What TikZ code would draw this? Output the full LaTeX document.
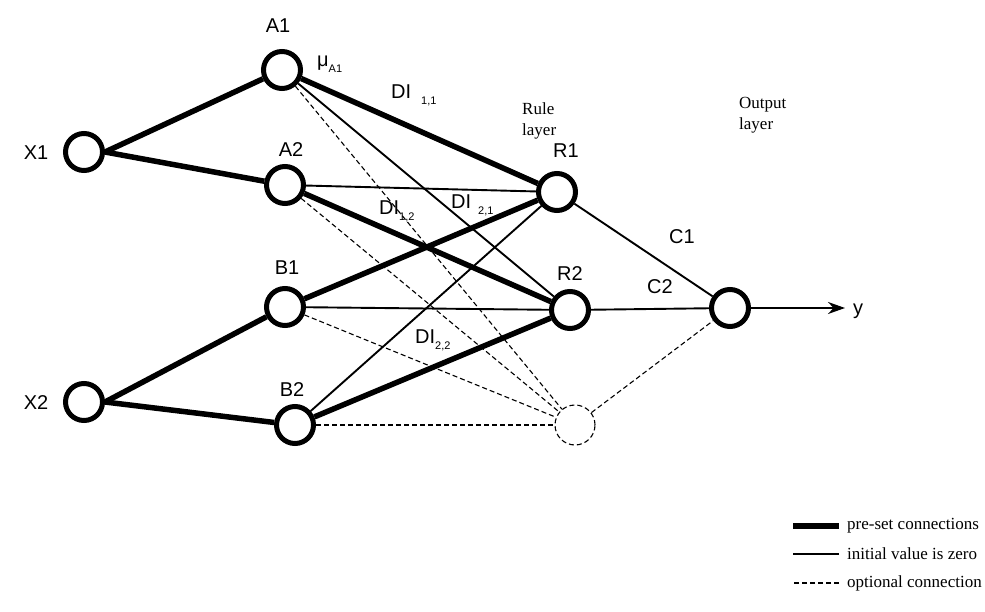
\documentclass[tikz,border=0pt]{standalone}
\usepackage{fontspec}
\setmainfont{Liberation Serif}
\newfontfamily\labelfont{Liberation Sans}
\usetikzlibrary{arrows.meta}
\newcommand{\lsub}[1]{\raisebox{-0.3em}{\fontsize{11pt}{11pt}\selectfont #1}}
\begin{document}
\begin{tikzpicture}[x=1pt, y=-1pt, >={Stealth[length=17pt,width=12pt]},
    neuron/.style={circle, draw, line width=5pt, minimum size=37pt, inner sep=0pt, fill=white},
    ghost/.style={circle, draw, line width=1.1pt, dash pattern=on 5pt off 3pt, minimum size=40pt, inner sep=0pt},
    preset/.style={line width=5.5pt},
    zeroinit/.style={line width=1.9pt},
    optional/.style={line width=1.1pt, dash pattern=on 5pt off 3pt},
    lbl/.style={font=\labelfont\fontsize{20pt}{22pt}\selectfont, inner sep=1pt},
    txt/.style={font=\fontsize{17pt}{21pt}\selectfont, align=left, inner sep=1pt}]
  \useasboundingbox (0,0) rectangle (985,612);

  % Neurons
  \node[neuron] (X1) at (84,152) {};
  \node[neuron] (X2) at (84,402) {};
  \node[neuron] (A1) at (282,70) {};
  \node[neuron] (A2) at (285,185) {};
  \node[neuron] (B1) at (285,307) {};
  \node[neuron] (B2) at (295,425) {};
  \node[neuron] (R1) at (557,192) {};
  \node[neuron] (R2) at (570,310) {};
  \node[ghost]  (R3) at (575,425) {};
  \node[neuron] (out) at (730,308) {};
  \coordinate (yend) at (845,308);

  % Input to membership layer
  \draw[preset] (X1.east) -- (A1);
  \draw[preset] (X1.east) -- (A2);
  \draw[preset] (X2.east) -- (B1);
  \draw[preset] (X2.east) -- (B2);

  % Membership to rule layer
  \draw[preset] (A1) -- (R1);
  \draw[preset] (A2) -- (R2);
  \draw[preset] (B1) -- (R1);
  \draw[preset] (B2) -- (R2);
  \draw[zeroinit] (A1) -- (R2);
  \draw[zeroinit] (A2) -- (R1);
  \draw[zeroinit] (B1) -- (R2);
  \draw[zeroinit] (B2) -- (R1);
  \foreach \m in {A1,A2,B1,B2}
    \draw[optional] (\m) -- (R3);

  % Rule to output layer
  \draw[zeroinit] (R1) -- (out);
  \draw[zeroinit] (R2) -- (out);
  \draw[optional] (R3) -- (out);
  \draw[->, line width=2pt] (out) -- (yend);

  % Labels
  \node[lbl] (lX1) at (36,153) {X1};
  \node[lbl] (lX2) at (36,403) {X2};
  \node[lbl] (lA1) at (278,26) {A1};
  \node[lbl] (lA2) at (291,150) {A2};
  \node[lbl] (lB1) at (287,268) {B1};
  \node[lbl] (lB2) at (292,390) {B2};
  \node[lbl] (lR1) at (566,151) {R1};
  \node[lbl] (lR2) at (570,274) {R2};
  \node[lbl] (lC1) at (682,237) {C1};
  \node[lbl] (lC2) at (660,287) {C2};
  \node[lbl, anchor=west] (ly) at (852,311) {y};
  \node[lbl, anchor=west] (mu) at (316,64) {μ\lsub{A1}};
  \node[lbl, anchor=west] (d11) at (390,95) {DI\hspace{10pt}\lsub{1,1}};
  \node[lbl, anchor=west] (d12) at (378,211) {DI\lsub{1,2}};
  \node[lbl, anchor=west] (d21) at (450,205) {DI\hspace{7pt}\lsub{2,1}};
  \node[lbl, anchor=west] (d22) at (414,340) {DI\lsub{2,2}};

  % Layer names
  \node[txt, anchor=west] (rule) at (521,121) {Rule\\layer};
  \node[txt, anchor=west] (outl) at (738,115) {Output\\layer};

  % Legend
  \node[txt, anchor=west] (leg1) at (846,526) {pre-set connections};
  \node[txt, anchor=west] (leg2) at (846,554) {initial value is zero};
  \node[txt, anchor=west] (leg3) at (846,583) {optional connection};
  \draw[preset] ([xshift=-7pt]leg1.west) -- ++(-46,0);
  \draw[zeroinit] ([xshift=-7pt]leg2.west) -- ++(-46,0);
  \draw[optional] ([xshift=-7pt]leg3.west) -- ++(-46,0);
\end{tikzpicture}
\end{document}
